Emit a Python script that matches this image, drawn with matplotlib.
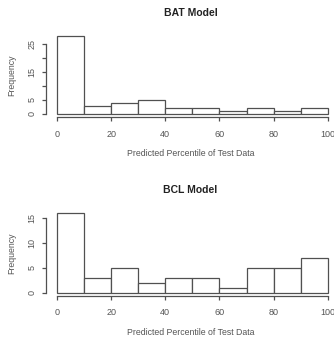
import matplotlib
matplotlib.use("Agg")
import matplotlib.pyplot as plt

edges = [0, 10, 20, 30, 40, 50, 60, 70, 80, 90, 100]
bat_counts = [28, 3, 4, 5, 2, 2, 1, 2, 1, 2]
bcl_counts = [16, 3, 5, 2, 3, 3, 1, 5, 5, 7]
x_ticks = [0, 20, 40, 60, 80, 100]
bat_yticks = [0, 5, 10, 15, 20, 25]
bat_ylabels = ["0", "5", "", "15", "", "25"]
bcl_yticks = [0, 5, 10, 15]
bcl_ylabels = ["0", "5", "10", "15"]

plt.rcParams['font.family'] = ['Liberation Sans', 'DejaVu Sans']
txt = "#555555"
edge = "#505050"

fig = plt.figure(figsize=(3.34, 3.39), dpi=100)


def hist_panel(rect, counts, yticks, ylabels, title, title_y, xlab_y):
    ax = fig.add_axes(rect)
    ax.bar(edges[:-1], counts, width=10, align="edge", facecolor="white",
           edgecolor=edge, linewidth=0.9)
    ymax = max(counts)
    ax.set_xlim(-4, 104)
    ax.set_ylim(-0.04 * ymax, 1.04 * ymax)
    for s in ["top", "right"]:
        ax.spines[s].set_visible(False)
    ax.spines["left"].set_bounds(yticks[0], yticks[-1])
    ax.spines["bottom"].set_bounds(0, 100)
    for s in ["left", "bottom"]:
        ax.spines[s].set_color(edge)
        ax.spines[s].set_linewidth(0.9)
    ax.set_xticks(x_ticks)
    ax.set_xticklabels([str(v) for v in x_ticks])
    ax.set_yticks(yticks)
    ax.set_yticklabels(ylabels, rotation=90, va="center")
    ax.tick_params(colors=edge, labelcolor=txt, labelsize=6.5, length=3,
                   width=0.9)
    ax.tick_params(axis="x", pad=6)
    ax.tick_params(axis="y", pad=4)
    ax.set_ylabel("Frequency", fontsize=6.3, color=txt, labelpad=8)
    fig.text(0.57, title_y, title, ha="center", va="center",
             fontsize=7.5, fontweight="bold", color="#222222")
    fig.text(0.57, xlab_y, "Predicted Percentile of Test Data",
             ha="center", va="center", fontsize=6.3, color=txt)
    return ax


hist_panel([0.138, 0.6546, 0.876, 0.2496], bat_counts, bat_yticks,
           bat_ylabels, "BAT Model", 0.962, 0.546)
hist_panel([0.138, 0.127, 0.876, 0.253], bcl_counts, bcl_yticks,
           bcl_ylabels, "BCL Model", 0.44, 0.02)

fig.savefig("out.png", dpi=100)
